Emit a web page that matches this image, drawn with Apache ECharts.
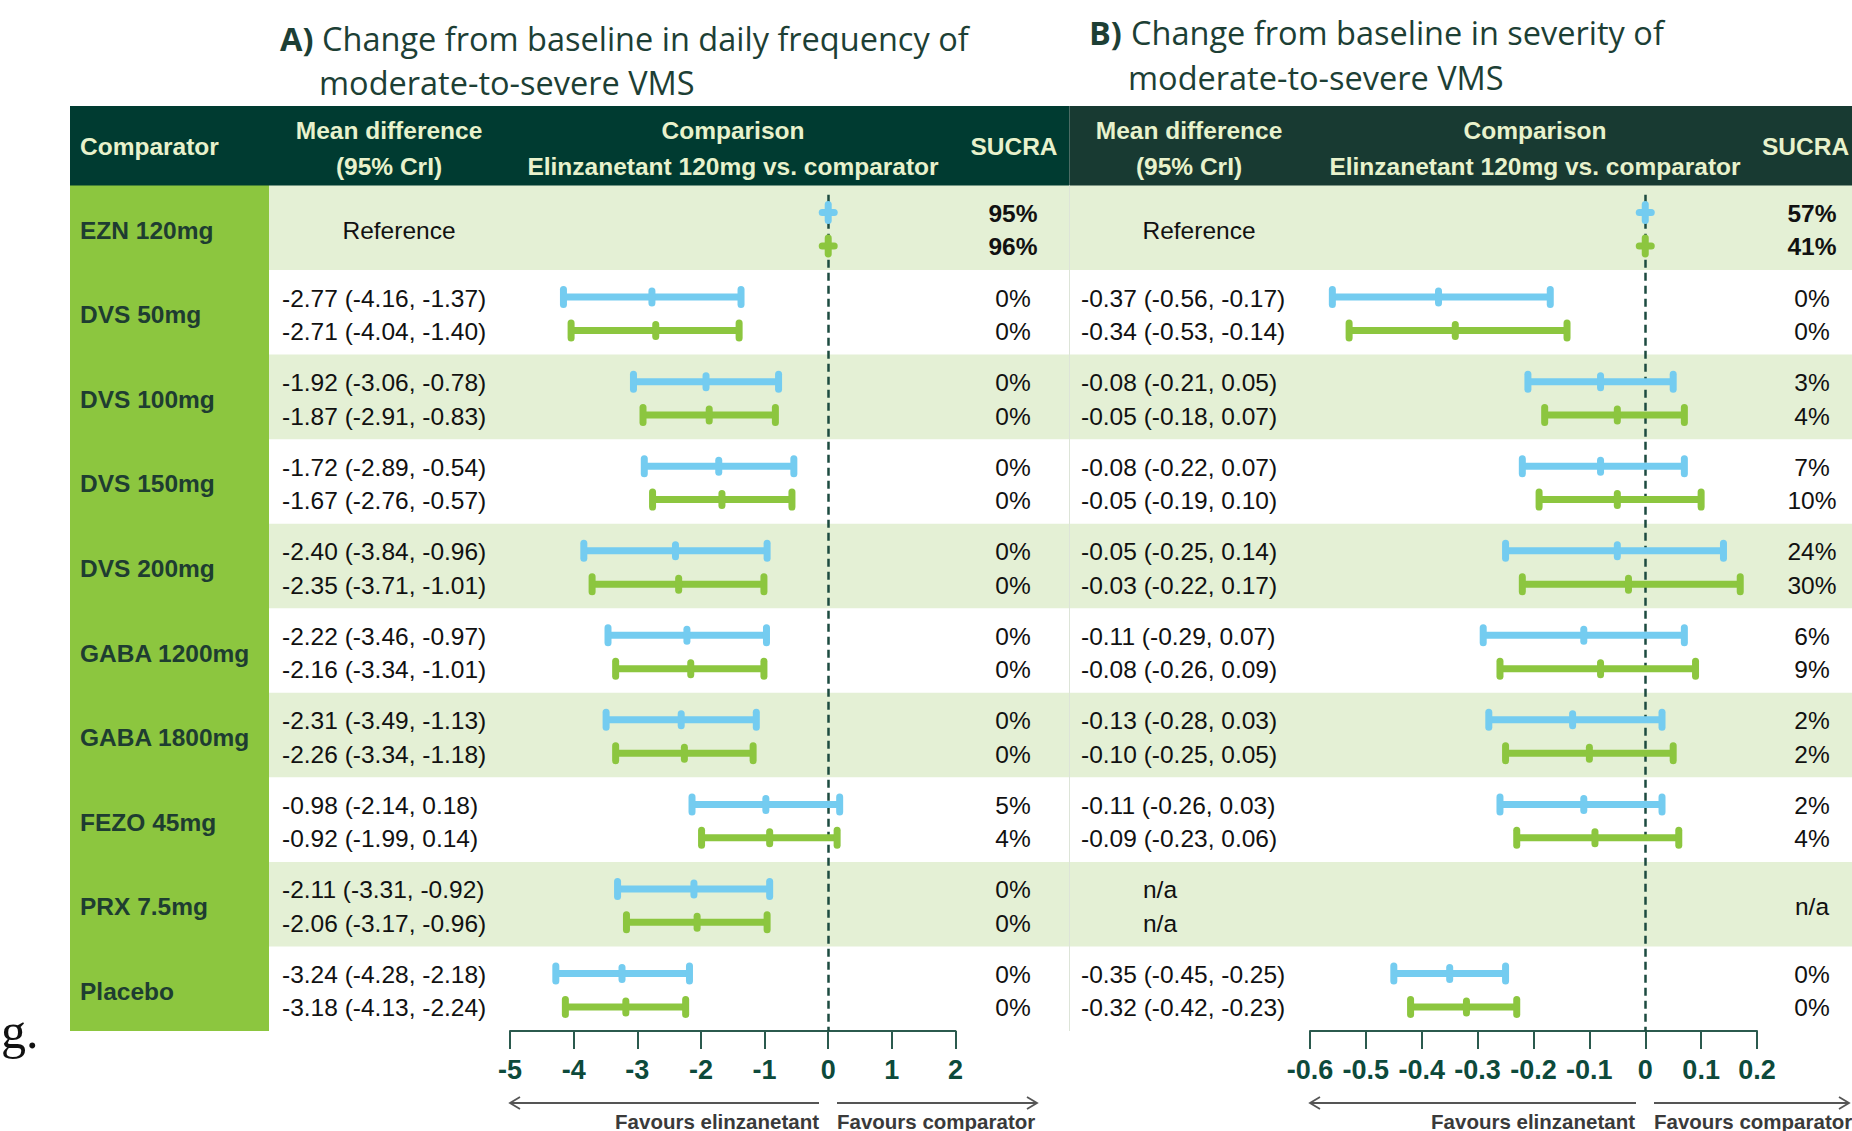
<!DOCTYPE html>
<html>
<head>
<meta charset="utf-8">
<title>Elinzanetant 120mg vs comparators</title>
<script src="https://cdn.jsdelivr.net/npm/echarts@6/dist/echarts.min.js"></script>
<style>
html, body { margin: 0; padding: 0; background: #fff; }
#chart { width: 1852px; height: 1131px; }
</style>
</head>
<body>
<div id="chart"></div>
<script>
const comparators = ['EZN 120mg', 'DVS 50mg', 'DVS 100mg', 'DVS 150mg', 'DVS 200mg',
    'GABA 1200mg', 'GABA 1800mg', 'FEZO 45mg', 'PRX 7.5mg', 'Placebo'];

// A) daily frequency: first estimate (blue), second estimate (green)
const freqMean1 = [0, -2.77, -1.92, -1.72, -2.40, -2.22, -2.31, -0.98, -2.11, -3.24];
const freqLow1 = [null, -4.16, -3.06, -2.89, -3.84, -3.46, -3.49, -2.14, -3.31, -4.28];
const freqHigh1 = [null, -1.37, -0.78, -0.54, -0.96, -0.97, -1.13, 0.18, -0.92, -2.18];
const freqMean2 = [0, -2.71, -1.87, -1.67, -2.35, -2.16, -2.26, -0.92, -2.06, -3.18];
const freqLow2 = [null, -4.04, -2.91, -2.76, -3.71, -3.34, -3.34, -1.99, -3.17, -4.13];
const freqHigh2 = [null, -1.40, -0.83, -0.57, -1.01, -1.01, -1.18, 0.14, -0.96, -2.24];
const freqSucra1 = [95, 0, 0, 0, 0, 0, 0, 5, 0, 0];
const freqSucra2 = [96, 0, 0, 0, 0, 0, 0, 4, 0, 0];

// B) severity (PRX not available)
const sevMean1 = [0, -0.37, -0.08, -0.08, -0.05, -0.11, -0.13, -0.11, null, -0.35];
const sevLow1 = [null, -0.56, -0.21, -0.22, -0.25, -0.29, -0.28, -0.26, null, -0.45];
const sevHigh1 = [null, -0.17, 0.05, 0.07, 0.14, 0.07, 0.03, 0.03, null, -0.25];
const sevMean2 = [0, -0.34, -0.05, -0.05, -0.03, -0.08, -0.10, -0.09, null, -0.32];
const sevLow2 = [null, -0.53, -0.18, -0.19, -0.22, -0.26, -0.25, -0.23, null, -0.42];
const sevHigh2 = [null, -0.14, 0.07, 0.10, 0.17, 0.09, 0.05, 0.06, null, -0.23];
const sevSucra1 = [57, 0, 3, 7, 24, 6, 2, 2, null, 0];
const sevSucra2 = [41, 0, 4, 10, 30, 9, 2, 4, null, 0];

// axis ticks: min, max, step
const freqTicks = [-5, 2, 1];
const sevTicks = [-0.6, 0.2, 0.1];

const BLUE = '#74ccf0', GREEN = '#8cc63f', DARK = '#003b31';
const FONT = '"Liberation Sans", Arial, sans-serif';
const TOP = 185.5, ROW_H = 84.55, BOTTOM = TOP + ROW_H * comparators.length;
const LINE1 = 0.32, LINE2 = 0.715;

const chart = echarts.init(document.getElementById('chart'), null, {renderer: 'svg'});

function toData(mean, low, high) {
    const out = [];
    mean.forEach(function (m, i) {
        if (m === null) return;
        // reference row has no interval: store mean as both ends
        out.push([i, m, low[i] === null ? m : low[i], high[i] === null ? m : high[i]]);
    });
    return out;
}

function renderBar(color, offset) {
    return function (params, api) {
        const y = api.value(0) + offset;
        const m = api.coord([api.value(1), y]);
        const lo = api.coord([api.value(2), y]);
        const hi = api.coord([api.value(3), y]);
        const cap = {stroke: color, lineWidth: 7, lineCap: 'round'};
        if (api.value(2) === api.value(3)) {
            return {type: 'group', children: [
                {type: 'line', shape: {x1: m[0] - 6, y1: m[1], x2: m[0] + 6, y2: m[1]}, style: cap},
                {type: 'line', shape: {x1: m[0], y1: m[1] - 8, x2: m[0], y2: m[1] + 8}, style: cap}
            ]};
        }
        return {type: 'group', children: [
            {type: 'line', shape: {x1: lo[0], y1: lo[1], x2: hi[0], y2: hi[1]}, style: {stroke: color, lineWidth: 7}},
            {type: 'line', shape: {x1: lo[0], y1: lo[1] - 7.5, x2: lo[0], y2: lo[1] + 7.5}, style: cap},
            {type: 'line', shape: {x1: hi[0], y1: hi[1] - 7.5, x2: hi[0], y2: hi[1] + 7.5}, style: cap},
            {type: 'line', shape: {x1: m[0], y1: m[1] - 6, x2: m[0], y2: m[1] + 6}, style: cap}
        ]};
    };
}

const zeroLine = {
    silent: true, symbol: 'none', label: {show: false},
    lineStyle: {color: '#1d4b40', width: 2.5, type: [8, 5]},
    data: [[{coord: [0, 0.11]}, {coord: [0, comparators.length]}]]
};

function axisX(grid, ticks) {
    return {
        gridIndex: grid, type: 'value', min: ticks[0], max: ticks[1], interval: ticks[2],
        axisLine: {show: true, onZero: false, lineStyle: {color: '#2b5a4e', width: 2}},
        axisTick: {show: true, length: 18, lineStyle: {color: '#2b5a4e', width: 2}},
        splitLine: {show: false},
        axisLabel: {color: '#0d4a3b', fontWeight: 'bold', fontSize: 27, fontFamily: FONT, margin: 25}
    };
}

function axisY(grid) {
    return {gridIndex: grid, type: 'value', min: 0, max: comparators.length, inverse: true, show: false};
}

// ---- table drawing ----
const g = [];
function rect(x, y, w, h, fill, z) {
    g.push({type: 'rect', z: z || 0, silent: true, shape: {x: x, y: y, width: w, height: h}, style: {fill: fill}});
}
function text(x, y, str, opt) {
    opt = opt || {};
    g.push({
        type: 'text', z: 20, silent: true, x: x, y: y,
        style: {
            text: str, fill: opt.color || '#111',
            font: (opt.bold ? 'bold ' : '') + (opt.size || 24.5) + 'px ' + (opt.family || FONT),
            textAlign: opt.align || 'left', align: opt.align || 'left',
            textVerticalAlign: 'middle', verticalAlign: 'middle'
        }
    });
}
function line(x1, y1, x2, y2, color, w) {
    g.push({type: 'line', z: 5, silent: true, shape: {x1: x1, y1: y1, x2: x2, y2: y2},
        style: {stroke: color, lineWidth: w || 1}});
}
function arrow(x1, x2, y, headLeft) {
    line(x1, y, x2, y, '#555', 1.8);
    const hx = headLeft ? x1 : x2, d = headLeft ? 10 : -10;
    g.push({type: 'polyline', z: 5, silent: true, shape: {points: [[hx + d, y - 6], [hx, y], [hx + d, y + 6]]},
        style: {stroke: '#555', lineWidth: 1.8, fill: null}});
}

// titles
const TITLE_FONT = '"Open Sans", "Liberation Sans", sans-serif';
const TITLE_COLOR = '#1d3f35';
text(280, 38, 'A)', {bold: true, size: 32.5, family: TITLE_FONT, color: TITLE_COLOR});
text(322, 38, 'Change from baseline in daily frequency of', {size: 32.5, family: TITLE_FONT, color: TITLE_COLOR});
text(319, 82, 'moderate-to-severe VMS', {size: 32.5, family: TITLE_FONT, color: TITLE_COLOR});
text(1089, 32, 'B)', {bold: true, size: 32.5, family: TITLE_FONT, color: TITLE_COLOR});
text(1131, 32, 'Change from baseline in severity of', {size: 32.5, family: TITLE_FONT, color: TITLE_COLOR});
text(1128, 77, 'moderate-to-severe VMS', {size: 32.5, family: TITLE_FONT, color: TITLE_COLOR});

// header band
rect(70, 106, 999.5, 80, DARK);
rect(1069.5, 106, 1852 - 1069.5, 80, '#183a32');
const HEAD = '#e8f2cc';
text(80, 146, 'Comparator', {bold: true, color: HEAD});
text(389, 130, 'Mean difference', {bold: true, color: HEAD, align: 'center'});
text(389, 166, '(95% CrI)', {bold: true, color: HEAD, align: 'center'});
text(733, 130, 'Comparison', {bold: true, color: HEAD, align: 'center'});
text(733, 166, 'Elinzanetant 120mg vs. comparator', {bold: true, color: HEAD, align: 'center'});
text(1014, 146, 'SUCRA', {bold: true, color: HEAD, align: 'center'});
text(1189, 130, 'Mean difference', {bold: true, color: HEAD, align: 'center'});
text(1189, 166, '(95% CrI)', {bold: true, color: HEAD, align: 'center'});
text(1535, 130, 'Comparison', {bold: true, color: HEAD, align: 'center'});
text(1535, 166, 'Elinzanetant 120mg vs. comparator', {bold: true, color: HEAD, align: 'center'});
text(1762, 146, 'SUCRA', {bold: true, color: HEAD});

// body bands
rect(70, TOP, 199, BOTTOM - TOP, GREEN);
comparators.forEach(function (c, i) {
    if (i % 2 === 0) rect(269, TOP + i * ROW_H, 1852 - 269, ROW_H, '#e4f0d5');
});
line(1069.5, TOP, 1069.5, BOTTOM, '#dde4d8', 1);

function md(m, lo, hi) {
    return m.toFixed(2) + ' (' + lo.toFixed(2) + ', ' + hi.toFixed(2) + ')';
}

comparators.forEach(function (c, i) {
    const top = TOP + i * ROW_H, mid = top + ROW_H / 2 + 2.5;
    const y1 = top + LINE1 * ROW_H + 1, y2 = top + LINE2 * ROW_H + 1;
    text(80, mid, c, {bold: true, color: '#1e3d31'});
    const ref = freqLow1[i] === null;
    // panel A
    if (ref) {
        text(399, mid, 'Reference', {align: 'center'});
    } else {
        text(282, y1, md(freqMean1[i], freqLow1[i], freqHigh1[i]));
        text(282, y2, md(freqMean2[i], freqLow2[i], freqHigh2[i]));
    }
    text(1013, y1, freqSucra1[i] + '%', {align: 'center', bold: ref});
    text(1013, y2, freqSucra2[i] + '%', {align: 'center', bold: ref});
    // panel B
    if (ref) {
        text(1199, mid, 'Reference', {align: 'center'});
    } else if (sevMean1[i] === null) {
        text(1160, y1, 'n/a', {align: 'center'});
        text(1160, y2, 'n/a', {align: 'center'});
    } else {
        text(1081, y1, md(sevMean1[i], sevLow1[i], sevHigh1[i]));
        text(1081, y2, md(sevMean2[i], sevLow2[i], sevHigh2[i]));
    }
    if (sevSucra1[i] === null) {
        text(1812, mid, 'n/a', {align: 'center'});
    } else {
        text(1812, y1, sevSucra1[i] + '%', {align: 'center', bold: ref});
        text(1812, y2, sevSucra2[i] + '%', {align: 'center', bold: ref});
    }
});

// favours arrows
const FAV = {bold: true, size: 20.5, color: '#3a3a3a'};
arrow(510, 819, 1103, true);
arrow(837, 1037, 1103, false);
text(819, 1121, 'Favours elinzanetant', Object.assign({align: 'right'}, FAV));
text(837, 1121, 'Favours comparator', FAV);
arrow(1310, 1636, 1103, true);
arrow(1654, 1849, 1103, false);
text(1635, 1121, 'Favours elinzanetant', Object.assign({align: 'right'}, FAV));
text(1654, 1121, 'Favours comparator', FAV);

// stray slide text at the left edge
text(1, 1031, 'g.', {size: 50, family: '"Liberation Serif", serif', color: '#111'});

chart.setOption({
    animation: false,
    grid: [
        {left: 510, width: 445.5, top: TOP, height: BOTTOM - TOP},
        {left: 1310, width: 447, top: TOP, height: BOTTOM - TOP}
    ],
    xAxis: [axisX(0, freqTicks), axisX(1, sevTicks)],
    yAxis: [axisY(0), axisY(1)],
    graphic: {elements: g},
    series: [
        {type: 'custom', name: 'Frequency 1', xAxisIndex: 0, yAxisIndex: 0, z: 10,
            renderItem: renderBar(BLUE, LINE1), encode: {x: [1, 2, 3], y: 0},
            data: toData(freqMean1, freqLow1, freqHigh1), markLine: zeroLine},
        {type: 'custom', name: 'Frequency 2', xAxisIndex: 0, yAxisIndex: 0, z: 11,
            renderItem: renderBar(GREEN, LINE2), encode: {x: [1, 2, 3], y: 0},
            data: toData(freqMean2, freqLow2, freqHigh2)},
        {type: 'custom', name: 'Severity 1', xAxisIndex: 1, yAxisIndex: 1, z: 10,
            renderItem: renderBar(BLUE, LINE1), encode: {x: [1, 2, 3], y: 0},
            data: toData(sevMean1, sevLow1, sevHigh1), markLine: zeroLine},
        {type: 'custom', name: 'Severity 2', xAxisIndex: 1, yAxisIndex: 1, z: 11,
            renderItem: renderBar(GREEN, LINE2), encode: {x: [1, 2, 3], y: 0},
            data: toData(sevMean2, sevLow2, sevHigh2)}
    ]
});
</script>
</body>
</html>
